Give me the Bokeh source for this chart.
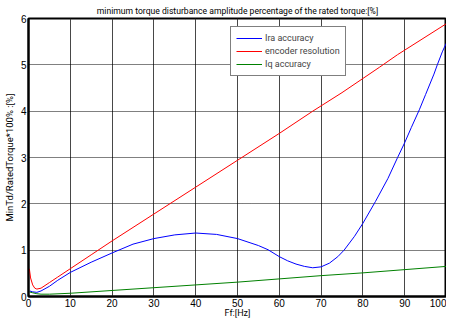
from bokeh.plotting import figure
from bokeh.models import Legend, LegendItem, Range1d, FixedTicker, Title
from bokeh.embed import file_html
from bokeh.resources import INLINE

title_text = "minimum torque disturbance amplitude percentage of the rated torque:[%]"
x_label = "Ff:[Hz]"
y_label = "MinTd/RatedTorque*100% :[%]"
x_ticks = [0, 10, 20, 30, 40, 50, 60, 70, 80, 90, 100]
y_ticks = [0, 1, 2, 3, 4, 5, 6]

ira_x = [0.3, 1, 2, 3, 5, 7, 10, 15, 20, 25, 30, 35, 40, 45, 50, 55, 57.3, 60, 62, 64, 66, 68,
         70, 72, 74, 75.5, 78, 80, 83, 86, 88.3, 90, 91.6, 93.5, 95, 97, 97.8, 99, 99.5, 100]
ira_y = [0.12, 0.1, 0.09, 0.12, 0.22, 0.35, 0.52, 0.74, 0.94, 1.13, 1.25, 1.33, 1.37, 1.34,
         1.25, 1.1, 1.01, 0.86, 0.77, 0.7, 0.65, 0.62, 0.64, 0.72, 0.86, 1.0, 1.3, 1.58, 2.05,
         2.55, 3.0, 3.32, 3.65, 4.03, 4.36, 4.8, 5.0, 5.28, 5.38, 5.47]

enc_x = [0.2, 0.5, 1, 1.5, 2, 3, 5, 7, 10, 15, 20, 30, 40, 50, 60, 68, 75, 84, 88.3, 100]
enc_y = [0.6, 0.4, 0.25, 0.18, 0.16, 0.18, 0.3, 0.42, 0.6, 0.9, 1.2, 1.78, 2.36, 2.94,
         3.52, 4.0, 4.4, 4.95, 5.22, 5.89]

iq_x = [0.2, 1, 2, 3, 5, 10, 20, 30, 40, 50, 60, 70, 80, 90, 100]
iq_y = [0.1, 0.08, 0.06, 0.05, 0.05, 0.07, 0.13, 0.19, 0.25, 0.31, 0.38, 0.45, 0.51, 0.58, 0.65]

FONT = "Liberation Sans"
TFONT = "Roboto"

p = figure(width=446, height=320, output_backend="svg", toolbar_location=None,
           x_range=Range1d(0, 100), y_range=Range1d(0, 6),
           min_border_left=23, min_border_right=0, min_border_top=0, min_border_bottom=24)
p.title = Title(text=title_text, text_font=TFONT, text_font_size="8.6px",
                text_font_style="normal", align="center", standoff=6, offset=0)
p.title.text_color = "#000000"

r1 = p.line(ira_x, ira_y, color="#0000ff", line_width=1)
r2 = p.line(enc_x, enc_y, color="#ff0000", line_width=1)
r3 = p.line(iq_x, iq_y, color="#008000", line_width=1)

for ax in (p.xaxis[0], p.yaxis[0]):
    ax.major_tick_out = 0
    ax.major_tick_in = 0
    ax.minor_tick_in = 0
    ax.minor_tick_out = 0
    ax.axis_line_width = 2
    ax.axis_line_color = "black"
    ax.major_label_text_font = FONT
    ax.major_label_text_font_size = "10px"
    ax.major_label_text_color = "black"
    ax.axis_label_text_font = TFONT
    ax.axis_label_text_font_style = "normal"
    ax.axis_label_text_color = "black"
    ax.major_label_standoff = 2

p.xaxis[0].axis_label_text_font_size = "9px"
p.yaxis[0].axis_label_text_font_size = "9.5px"
p.xaxis[0].axis_label_standoff = -2
p.yaxis[0].axis_label_standoff = 3

p.xaxis[0].ticker = FixedTicker(ticks=x_ticks)
p.yaxis[0].ticker = FixedTicker(ticks=y_ticks)
p.xaxis[0].axis_label = x_label
p.yaxis[0].axis_label = y_label

p.xgrid.grid_line_color = "#333333"
p.xgrid.grid_line_width = 1
p.xgrid.grid_line_alpha = 0.9
p.ygrid.grid_line_color = "black"
p.ygrid.grid_line_dash = "1 1"
p.ygrid.grid_line_width = 1

p.outline_line_color = "black"
p.outline_line_width = 2
p.outline_line_alpha = 1
p.background_fill_color = "white"
p.border_fill_color = "white"

legend = Legend(items=[LegendItem(label="Ira accuracy", renderers=[r1]),
                       LegendItem(label="encoder resolution", renderers=[r2]),
                       LegendItem(label="Iq accuracy", renderers=[r3])],
                location=(202, 220), orientation="vertical",
                label_text_font=TFONT, label_text_font_size="9px",
                glyph_width=26, glyph_height=12, label_height=12,
                spacing=1, padding=5, margin=0, label_standoff=3,
                border_line_color="black", border_line_width=1,
                background_fill_color="white", background_fill_alpha=1)
p.add_layout(legend)

open("out.html", "w").write(file_html(p, INLINE))
